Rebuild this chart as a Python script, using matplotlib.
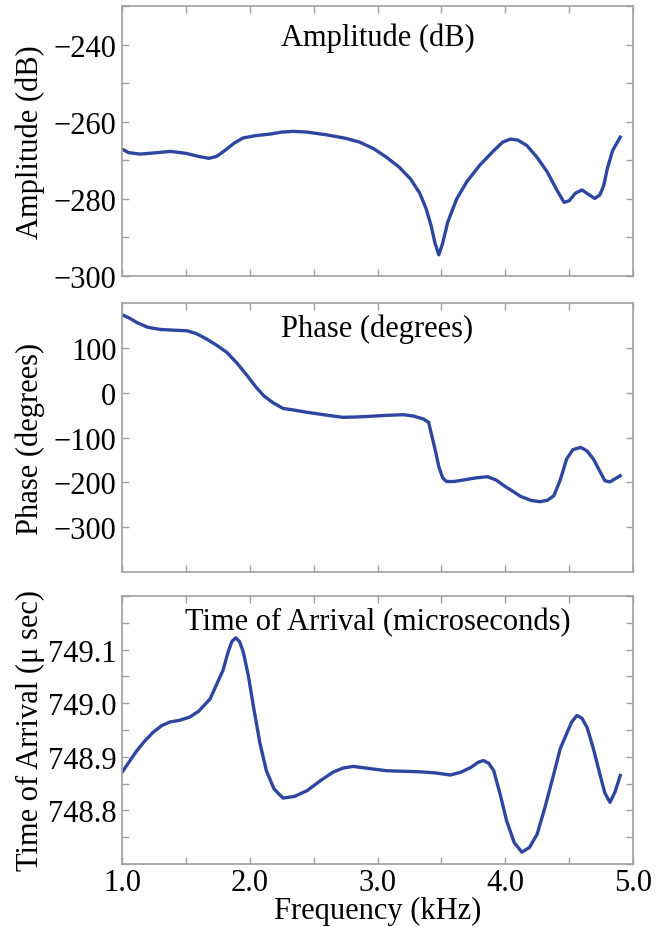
import matplotlib
matplotlib.use('Agg')
import matplotlib.pyplot as plt
from matplotlib.ticker import MultipleLocator

plt.rcParams['font.family'] = ['Liberation Serif', 'DejaVu Serif']
plt.rcParams['font.size'] = 22

# --- values (frequency in kHz)
amp_f = [1.00, 1.05, 1.14, 1.25, 1.38, 1.50, 1.60, 1.68, 1.74, 1.80, 1.88, 1.95,
         2.05, 2.16, 2.25, 2.34, 2.45, 2.60, 2.75, 2.86, 2.97, 3.07, 3.17, 3.26,
         3.33, 3.38, 3.42, 3.45, 3.48, 3.51, 3.55, 3.62, 3.70, 3.80, 3.91, 3.98,
         4.04, 4.10, 4.17, 4.25, 4.33, 4.40, 4.46, 4.50, 4.55, 4.60, 4.65, 4.70,
         4.74, 4.77, 4.80, 4.84, 4.90]
amp_db = [-267.1, -268.0, -268.4, -268.1, -267.7, -268.2, -269.0, -269.5, -269.0,
          -267.6, -265.5, -264.2, -263.6, -263.2, -262.7, -262.5, -262.7, -263.4,
          -264.3, -265.3, -267.0, -269.2, -271.8, -274.9, -278.5, -282.5, -287.0,
          -291.5, -294.5, -291.5, -286.0, -280.0, -275.5, -271.3, -267.5, -265.3,
          -264.5, -264.8, -266.2, -269.3, -273.1, -277.5, -280.9, -280.5, -278.5,
          -277.7, -278.8, -279.9, -279.0, -276.6, -272.0, -267.5, -264.0]

ph_f = [1.00, 1.06, 1.12, 1.20, 1.30, 1.40, 1.51, 1.58, 1.66, 1.74, 1.82, 1.90,
        1.98, 2.05, 2.11, 2.18, 2.26, 2.35, 2.45, 2.60, 2.73, 2.85, 2.94, 3.08,
        3.20, 3.28, 3.36, 3.40, 3.42, 3.45, 3.48, 3.51, 3.54, 3.60, 3.67, 3.77,
        3.86, 3.93, 3.99, 4.06, 4.12, 4.20, 4.27, 4.33, 4.38, 4.43, 4.48, 4.53,
        4.59, 4.64, 4.69, 4.74, 4.78, 4.82, 4.86, 4.90]
ph_deg = [174.0, 166.0, 156.0, 146.0, 141.0, 139.5, 138.0, 132.0, 120.0, 106.0,
          90.0, 66.0, 38.0, 12.0, -7.0, -22.0, -35.0, -39.0, -43.8, -50.0, -55.0,
          -54.0, -52.7, -50.5, -49.1, -52.0, -58.8, -66.0, -90.0, -125.7, -165.0,
          -190.0, -198.0, -198.0, -194.8, -190.0, -187.4, -195.0, -207.5, -220.0,
          -231.3, -240.0, -243.2, -240.0, -229.8, -195.0, -148.0, -127.0, -121.9,
          -130.0, -148.0, -175.0, -196.4, -199.0, -192.0, -185.2]

toa_f = [1.00, 1.06, 1.115, 1.18, 1.245, 1.31, 1.376, 1.45, 1.53, 1.60, 1.69,
         1.75, 1.79, 1.83, 1.86, 1.89, 1.92, 1.95, 1.99, 2.03, 2.08, 2.13, 2.19,
         2.26, 2.35, 2.45, 2.55, 2.65, 2.73, 2.81, 2.94, 3.07, 3.20, 3.33, 3.45,
         3.57, 3.65, 3.73, 3.79, 3.83, 3.87, 3.91, 3.96, 4.01, 4.07, 4.13, 4.19,
         4.25, 4.31, 4.38, 4.43, 4.48, 4.52, 4.56, 4.60, 4.64, 4.69, 4.74, 4.78,
         4.82, 4.86, 4.90]
toa_us = [748.871, 748.892, 748.911, 748.930, 748.946, 748.958, 748.965, 748.968,
          748.974, 748.985, 749.008, 749.040, 749.061, 749.095, 749.115, 749.122,
          749.115, 749.095, 749.050, 748.992, 748.925, 748.874, 748.840, 748.823,
          748.826, 748.837, 748.855, 748.871, 748.879, 748.882, 748.878, 748.874,
          748.873, 748.872, 748.870, 748.866, 748.871, 748.880, 748.890, 748.893,
          748.888, 748.874, 748.830, 748.781, 748.740, 748.722, 748.731, 748.756,
          748.805, 748.868, 748.915, 748.943, 748.965, 748.977, 748.972, 748.955,
          748.915, 748.868, 748.832, 748.815, 748.835, 748.865]

line_color = '#2d46a0'
frame_color = '#a0a0a0'

fig = plt.figure(figsize=(6.57, 9.28), dpi=100)
ax1 = fig.add_axes([0.1857, 0.7015, 0.7778, 0.2910])
ax2 = fig.add_axes([0.1857, 0.3825, 0.7778, 0.2899])
ax3 = fig.add_axes([0.1857, 0.0679, 0.7778, 0.2888])

ax1.plot(amp_f, amp_db, color=line_color, lw=2.4, solid_joinstyle='round')
ax2.plot(ph_f, ph_deg, color=line_color, lw=2.4, solid_joinstyle='round')
ax3.plot(toa_f, toa_us, color=line_color, lw=2.4, solid_joinstyle='round')

ax1.set_ylim(-300, -230)
ax1.set_yticks([-300, -280, -260, -240])
ax1.yaxis.set_minor_locator(MultipleLocator(10))

ax2.set_ylim(-400, 200)
ax2.set_yticks([-300, -200, -100, 0, 100])

ax3.set_ylim(748.7, 749.2)
ax3.set_yticks([748.8, 748.9, 749.0, 749.1])
ax3.set_yticklabels(['748.8', '748.9', '749.0', '749.1'])
ax3.yaxis.set_minor_locator(MultipleLocator(0.05))

titles = ['Amplitude (dB)', 'Phase (degrees)', 'Time of Arrival (microseconds)']
title_y = [0.94, 0.96, 0.96]
ylabels = ['Amplitude (dB)', 'Phase (degrees)', 'Time of Arrival (\u03bc sec)']

for ax, t, ty, yl in zip([ax1, ax2, ax3], titles, title_y, ylabels):
    ax.set_xlim(1, 5)
    ax.set_xticks([1, 2, 3, 4, 5])
    ax.xaxis.set_minor_locator(MultipleLocator(0.5))
    ax.tick_params(which='both', direction='in', top=True, right=True,
                   length=5, width=1, color=frame_color, labelsize=22, pad=4)
    for s in ax.spines.values():
        s.set_color(frame_color)
        s.set_linewidth(1.2)
    ax.text(0.5, ty, t, transform=ax.transAxes, ha='center', va='top', fontsize=22)
    ax.set_ylabel(yl, fontsize=22)
    ax.yaxis.set_label_coords(-0.15, 0.5)

ax1.set_xticklabels([])
ax2.set_xticklabels([])
ax3.set_xticklabels(['1.0', '2.0', '3.0', '4.0', '5.0'])
ax3.tick_params(axis='x', pad=3)
ax3.set_xlabel('Frequency (kHz)', fontsize=22)
ax3.xaxis.set_label_coords(0.5, -0.12)

fig.savefig('out.png', dpi=100)
